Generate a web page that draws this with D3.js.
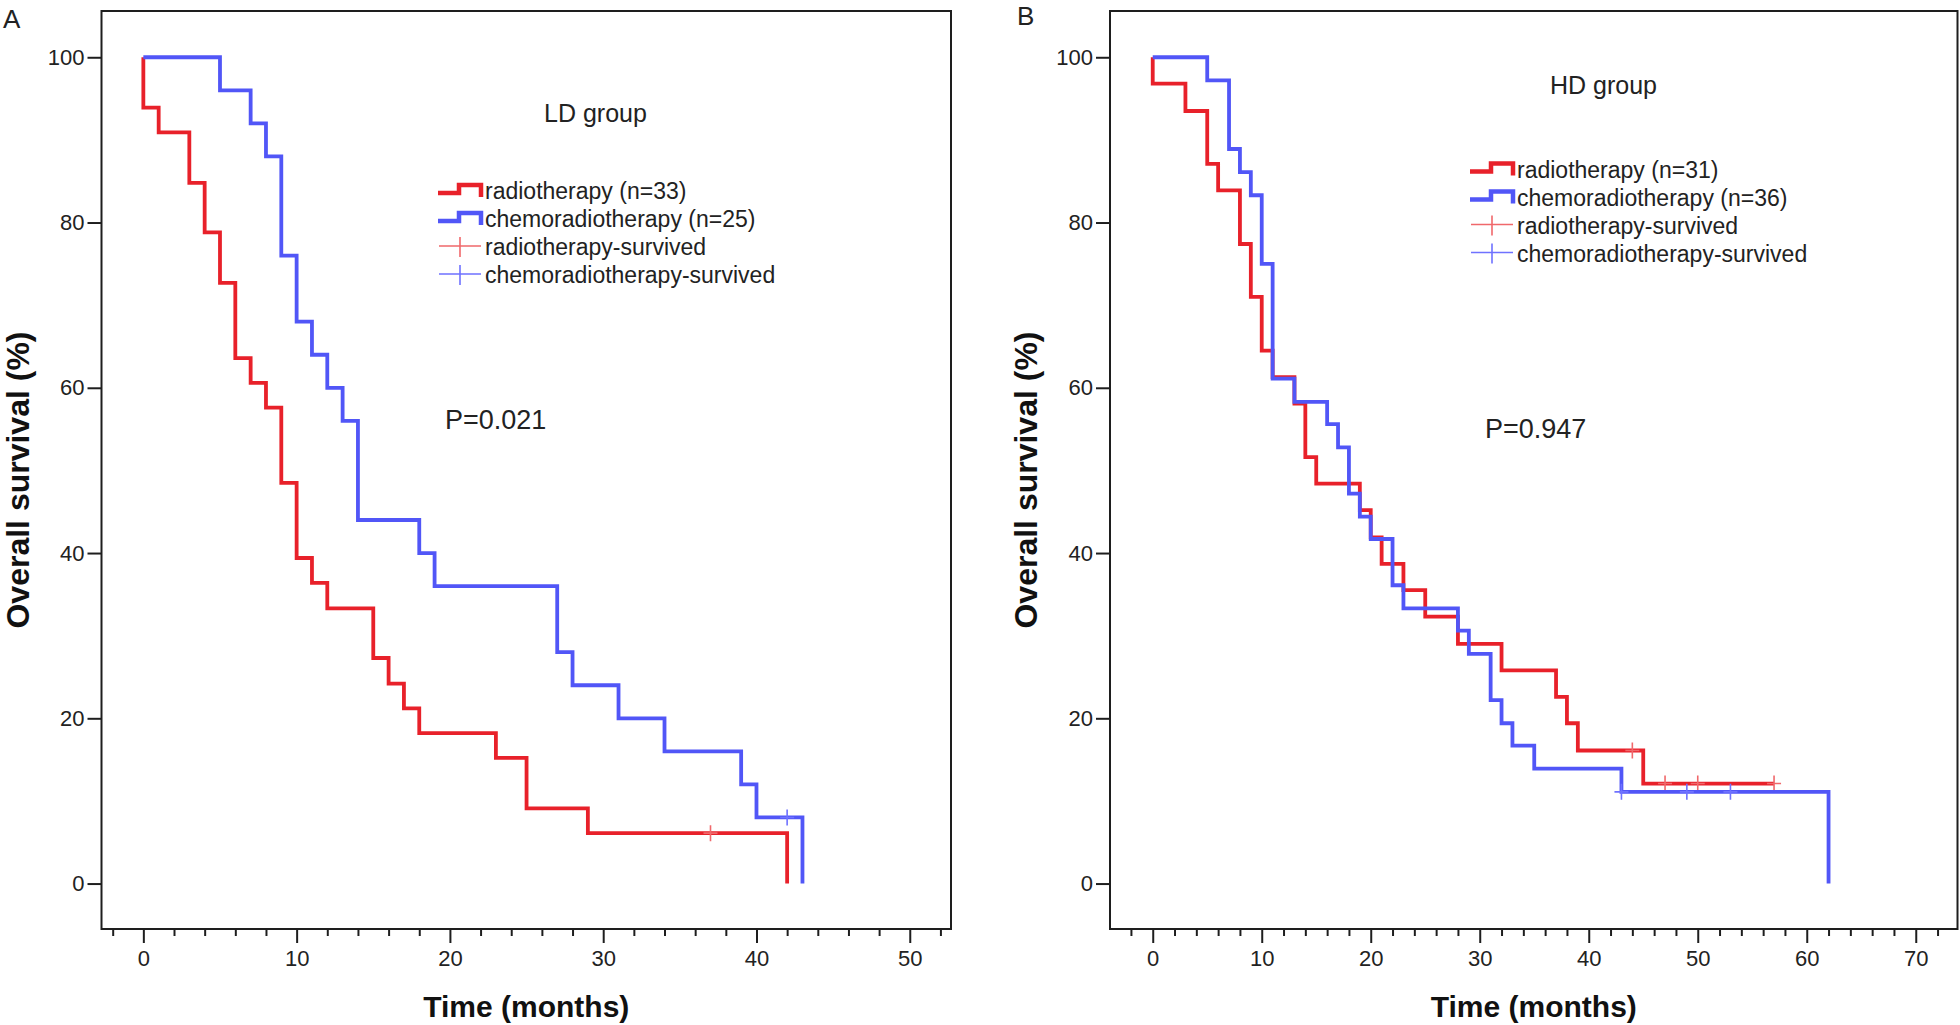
<!DOCTYPE html>
<html>
<head>
<meta charset="utf-8">
<script src="https://cdn.jsdelivr.net/npm/d3@7/dist/d3.min.js"></script>
<style>
    body { margin: 0; background: #ffffff; }
    svg { display: block; font-family: "Liberation Sans", Arial, sans-serif; }
</style>
</head>
<body>
<svg id="km_svg" width="1960" height="1025"></svg>
<script>
"use strict";

// ---- data (months, overall survival %) ----

// panel A, LD group
const ld_rad_time = [0, 0, 1, 3, 4, 5, 6, 7, 8, 9, 10, 11, 12, 15, 16, 17, 18, 23, 25, 29, 42];
const ld_rad_surv = [100, 93.9, 90.9, 84.8, 78.8, 72.7, 63.6, 60.6, 57.6, 48.5, 39.4, 36.4, 33.3, 27.3, 24.2, 21.2, 18.2, 15.2, 9.1, 6.1, 0];
const ld_rad_censor = [37];

const ld_chemo_time = [0, 5, 7, 8, 9, 10, 11, 12, 13, 14, 18, 19, 27, 28, 31, 34, 39, 40, 43];
const ld_chemo_surv = [100, 96, 92, 88, 76, 68, 64, 60, 56, 44, 40, 36, 28, 24, 20, 16, 12, 8, 0];
const ld_chemo_censor = [42];

// panel B, HD group
const hd_rad_time = [0, 0, 3, 5, 6, 8, 9, 10, 11, 13, 14, 15, 19, 20, 21, 23, 25, 28, 32, 37, 38, 39, 45, 57];
const hd_rad_surv = [100, 96.8, 93.5, 87.1, 83.9, 77.4, 71.0, 64.5, 61.3, 58.1, 51.6, 48.4, 45.2, 41.9, 38.7, 35.5, 32.3, 29.0, 25.8, 22.6, 19.4, 16.1, 12.1, 12.1];
const hd_rad_censor = [44, 47, 50, 57];

const hd_chemo_time = [0, 5, 7, 8, 9, 10, 11, 13, 16, 17, 18, 19, 20, 22, 23, 28, 29, 31, 32, 33, 35, 43, 62];
const hd_chemo_surv = [100, 97.2, 88.9, 86.1, 83.3, 75.0, 61.1, 58.3, 55.6, 52.8, 47.2, 44.4, 41.7, 36.1, 33.3, 30.6, 27.8, 22.2, 19.4, 16.7, 13.9, 11.1, 0];
const hd_chemo_censor = [43, 49, 53];

const y_ticks = [0, 20, 40, 60, 80, 100];
const ld_x_ticks = [0, 10, 20, 30, 40, 50];
const hd_x_ticks = [0, 10, 20, 30, 40, 50, 60, 70];

const ld_legend = ["radiotherapy (n=33)", "chemoradiotherapy (n=25)", "radiotherapy-survived", "chemoradiotherapy-survived"];
const hd_legend = ["radiotherapy (n=31)", "chemoradiotherapy (n=36)", "radiotherapy-survived", "chemoradiotherapy-survived"];

const red = "#e8212a";
const blue = "#5156f7";
const red_light = "#f0686b";
const blue_light = "#6f72ff";
const axis_color = "#1e1e1e";

const top_y = 11;
const bottom_y = 929;

const svg1 = d3.select("#km_svg");

svg1.append("rect")
    .attr("width", 1960)
    .attr("height", 1025)
    .attr("fill", "#ffffff");


function genPanel(cfg) {

    const xScale = d3.scaleLinear()
        .domain(cfg.x_domain)
        .range([cfg.left, cfg.right]);

    const yScale = d3.scaleLinear()
        .domain([-5.5, 105.6])
        .range([bottom_y, top_y]);

    const g = svg1.append("g");

    // minor x ticks every 2 months
    const minor = d3.range(Math.ceil(cfg.x_domain[0] / 2) * 2, cfg.x_domain[1], 2)
        .filter(d => d % 10 !== 0);

    const minorAxis = g.append("g")
        .attr("transform", `translate(0, ${bottom_y})`)
        .call(d3.axisBottom(xScale).tickValues(minor).tickSize(7).tickFormat(""));
    minorAxis.select(".domain").remove();
    minorAxis.selectAll("line").attr("stroke", axis_color).attr("stroke-width", 2);

    const xAxis = g.append("g")
        .attr("transform", `translate(0, ${bottom_y})`)
        .call(d3.axisBottom(xScale).tickValues(cfg.x_ticks).tickSize(14).tickPadding(7));
    xAxis.select(".domain").remove();
    xAxis.selectAll("line").attr("stroke", axis_color).attr("stroke-width", 2);
    xAxis.selectAll("text")
        .attr("fill", "#222")
        .style("font-size", "22px")
        .style("font-family", "'Liberation Sans', Arial, sans-serif");

    const yAxis = g.append("g")
        .attr("transform", `translate(${cfg.left}, 0)`)
        .call(d3.axisLeft(yScale).tickValues(y_ticks).tickSize(14).tickPadding(3));
    yAxis.select(".domain").remove();
    yAxis.selectAll("line").attr("stroke", axis_color).attr("stroke-width", 2);
    yAxis.selectAll("text")
        .attr("fill", "#222")
        .style("font-size", "22px")
        .style("font-family", "'Liberation Sans', Arial, sans-serif");

    // frame
    g.append("rect")
        .attr("x", cfg.left)
        .attr("y", top_y)
        .attr("width", cfg.right - cfg.left)
        .attr("height", bottom_y - top_y)
        .attr("fill", "none")
        .attr("stroke", axis_color)
        .attr("stroke-width", 2);

    // survival curves
    const line = d3.line()
        .x(d => xScale(d[0]))
        .y(d => yScale(d[1]))
        .curve(d3.curveStepAfter);

    cfg.series.forEach(s => {
        const pts = s.time.map((t, i) => [t, s.surv[i]]);
        g.append("path")
            .datum(pts)
            .attr("d", line)
            .attr("fill", "none")
            .attr("stroke", s.color)
            .attr("stroke-width", 3.8)
            .attr("stroke-linejoin", "miter");

        // censored marks
        s.censor.forEach(c => {
            let val = s.surv[0];
            s.time.forEach((t, i) => { if (t <= c) val = s.surv[i]; });
            const cx = xScale(c), cy = yScale(val);
            g.append("path")
                .attr("d", `M${cx - 7},${cy}H${cx + 7}M${cx},${cy - 8}V${cy + 8}`)
                .attr("stroke", s.light)
                .attr("stroke-width", 1.6)
                .attr("fill", "none");
        });
    });

    // group title
    g.append("text")
        .attr("x", cfg.title_x)
        .attr("y", cfg.title_y)
        .text(cfg.title)
        .style("font-size", "25px")
        .attr("fill", "#222");

    // legend
    const lx = cfg.legend_x;
    cfg.legend.forEach((label, i) => {
        const cy = cfg.legend_y + i * 28;
        if (i < 2) {
            g.append("path")
                .attr("d", `M${lx},${cy + 1}H${lx + 21}V${cy - 7}H${lx + 43}V${cy + 5}`)
                .attr("fill", "none")
                .attr("stroke", i === 0 ? red : blue)
                .attr("stroke-width", 4.5);
        } else {
            g.append("path")
                .attr("d", `M${lx + 1},${cy - 2}H${lx + 43}M${lx + 22},${cy - 11}V${cy + 9}`)
                .attr("fill", "none")
                .attr("stroke", i === 2 ? red_light : blue_light)
                .attr("stroke-width", 1.6);
        }
        g.append("text")
            .attr("x", lx + 47)
            .attr("y", cy + 7)
            .text(label)
            .style("font-size", "23px")
            .attr("fill", "#222");
    });

    // p value
    g.append("text")
        .attr("x", cfg.p_x)
        .attr("y", cfg.p_y)
        .text(cfg.p_text)
        .style("font-size", "27px")
        .attr("fill", "#222");

    // axis titles
    g.append("text")
        .attr("x", (cfg.left + cfg.right) / 2)
        .attr("y", 1017)
        .attr("text-anchor", "middle")
        .text("Time (months)")
        .style("font-size", "30px")
        .style("font-weight", "bold")
        .attr("fill", "#111");

    g.append("text")
        .attr("transform", `translate(${cfg.left - 73}, 480) rotate(-90)`)
        .attr("text-anchor", "middle")
        .text("Overall survival (%)")
        .style("font-size", "32px")
        .style("font-weight", "bold")
        .attr("fill", "#111");

    // panel letter
    g.append("text")
        .attr("x", cfg.letter_x)
        .attr("y", cfg.letter_y)
        .text(cfg.letter)
        .style("font-size", "26px")
        .attr("fill", "#222");
}


genPanel({
    left: 101.5, right: 951,
    x_domain: [-2.73, 52.69],
    x_ticks: ld_x_ticks,
    series: [
        { time: ld_rad_time, surv: ld_rad_surv, censor: ld_rad_censor, color: red, light: red_light },
        { time: ld_chemo_time, surv: ld_chemo_surv, censor: ld_chemo_censor, color: blue, light: blue_light }
    ],
    title: "LD group", title_x: 544, title_y: 122,
    legend: ld_legend, legend_x: 438, legend_y: 192,
    p_text: "P=0.021", p_x: 445, p_y: 429,
    letter: "A", letter_x: 3, letter_y: 28
});

genPanel({
    left: 1110, right: 1957.5,
    x_domain: [-3.92, 73.83],
    x_ticks: hd_x_ticks,
    series: [
        { time: hd_rad_time, surv: hd_rad_surv, censor: hd_rad_censor, color: red, light: red_light },
        { time: hd_chemo_time, surv: hd_chemo_surv, censor: hd_chemo_censor, color: blue, light: blue_light }
    ],
    title: "HD group", title_x: 1550, title_y: 94,
    legend: hd_legend, legend_x: 1470, legend_y: 170.5,
    p_text: "P=0.947", p_x: 1485, p_y: 438,
    letter: "B", letter_x: 1017, letter_y: 25
});
</script>
</body>
</html>
